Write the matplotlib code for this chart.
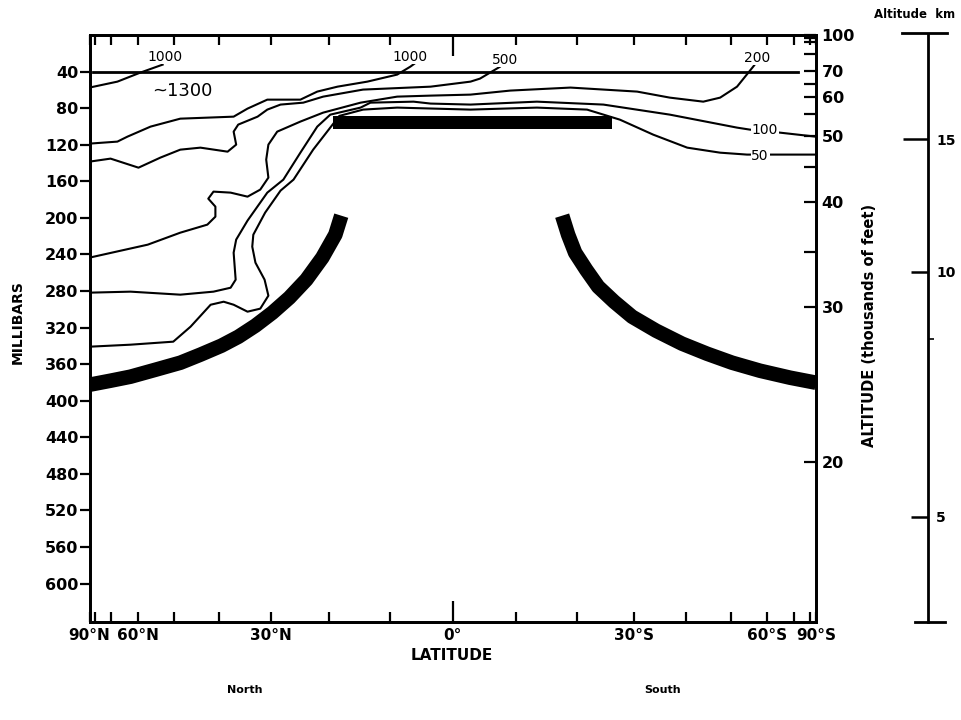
import numpy as np
import matplotlib
matplotlib.use("Agg")
import matplotlib.pyplot as plt
from matplotlib.ticker import FixedLocator, FixedFormatter, NullFormatter

plt.rcParams['font.family'] = ['DejaVu Sans']

# ---- axes definitions (latitude: north positive; pressure in mb) ----
lat_ticks = [90, 80, 70, 60, 50, 40, 30, 20, 10, 0, -10, -20, -30, -40, -50, -60, -70, -80, -90]
lat_tick_labels = ["90°N", "", "", "60°N", "", "", "30°N", "", "", "0°", "", "", "30°S", "", "", "60°S", "", "", "90°S"]
mb_ticks = [40, 80, 120, 160, 200, 240, 280, 320, 360, 400, 440, 480, 520, 560, 600]
ft_labels = ["100", "70", "60", "50", "40", "30", "20"]
ft_pos = [0, 39, 68, 111, 183, 298, 467]
ft_minor = [3, 8, 21, 54, 86, 144, 237]
km_labels = ["15", "10", "5"]
km_pos = [114, 259, 527]
km_minor = [333]

# ---- contour lines (lat, mb) ----
c1000a_lat = [90, 67.4, 59.3, 53.0]
c1000a_p = [57.5, 51.0, 41.1, 32.4]

c1000_lat = [90, 67.4, 63.6, 56.3, 48.6, 37.1, 34.4, 30.7, 24.8, 21.9, 18.5, 13.6, 8.8, 6.7, 5.6]
c1000_p = [118.8, 116.6, 111.2, 100.2, 91.5, 89.3, 80.5, 70.7, 70.7, 61.9, 56.5, 51.0, 43.3, 34.6, 29.1]

c500_lat = [90, 70.4, 59.9, 53.6, 48.6, 44.0, 38.3, 36.6, 37.1, 36.2, 32.5, 30.7, 28.3, 24.3, 20.9,
            14.3, 3.5, -2.8, -4.3, -7.5, -8.0]
c500_p = [138.5, 135.2, 145.1, 134.1, 125.4, 123.2, 127.6, 119.9, 105.7, 98.0, 89.3, 81.6, 76.1, 74.0, 67.4,
          59.7, 56.5, 51.0, 47.7, 34.6, 30.2]

c200_lat = [90, 57.1, 48.6, 42.5, 40.8, 40.8, 42.3, 41.2, 37.7, 34.4, 32.0, 30.5, 30.9, 30.5, 28.9, 24.8,
            20.9, 14.7, 8.8, 3.5, -2.8, -9.1, -18.9, -30.5, -36.7, -43.6, -47.4, -51.5, -55.8, -56.9]
c200_p = [243.5, 229.3, 216.2, 207.4, 198.7, 187.7, 179.0, 171.3, 172.4, 176.8, 169.1, 156.0, 136.3, 119.9,
          105.7, 94.7, 84.9, 74.0, 67.4, 66.3, 65.2, 60.8, 57.5, 61.9, 68.5, 72.9, 68.5, 56.5, 34.6, 29.1]

c100_lat = [90, 62.5, 48.6, 41.2, 37.7, 36.7, 37.1, 36.6, 34.4, 30.7, 27.8, 24.8, 21.9, 19.7, 14.7, 13.1,
            6.2, 3.5, -2.8, -13.4, -24.5, -36.7, -51.5, -54.9, -64.3, -90]
c100_p = [281.8, 280.7, 284.0, 280.7, 276.4, 267.6, 238.1, 223.8, 203.0, 172.4, 158.2, 128.7, 100.2, 87.1,
          79.4, 74.0, 72.9, 75.0, 76.1, 72.9, 76.1, 87.1, 101.3, 103.5, 106.8, 111.2]

c50_lat = [90, 62.5, 50.3, 46.2, 41.8, 39.1, 37.1, 34.4, 32.0, 30.5, 31.2, 32.9, 33.5, 33.3, 31.1, 28.3,
           26.0, 22.6, 19.2, 18.2, 14.3, 8.8, -2.8, -13.4, -21.7, -27.4, -33.5, -40.2, -47.4, -54.1, -63.2, -90]
c50_p = [340.9, 338.7, 335.4, 319.0, 295.0, 291.7, 295.0, 302.6, 299.3, 285.1, 267.6, 249.0, 231.5, 218.4,
         194.3, 170.2, 158.2, 125.4, 97.0, 88.5, 81.6, 79.4, 81.6, 79.4, 81.6, 92.6, 109.0, 123.2, 128.7,
         130.8, 130.8, 130.8]

# contour labels: (text, lat, mb)
clabels = [("1000", 52.3, 23.6), ("1000", 6.7, 23.6), ("500", -8.3, 26.9), ("200", -56.9, 24.7),
           ("100", -59.3, 104.0), ("50", -57.8, 132.0)]
big_label = ("~1300", 48.1, 60.8)

# horizontal line at 40 mb
line40_lat = [81.5, -71.9]
line40_p = 40

# thick bars
bar_lat = [19.2, -26.0]
bar_p = [89.0, 103.0]

arcN_lat = [17.87, 18.86, 21.04, 23.77, 26.73, 29.77, 32.91, 36.16, 39.56, 44.0, 48.56, 54.92, 62.51, 70.42, 90]
arcN_p = [197.6, 218.4, 243.5, 267.6, 287.3, 303.7, 317.9, 330.0, 339.8, 349.6, 358.4, 366.1, 373.7, 378.1, 382.5]
arcS_lat = [-17.53, -18.52, -19.69, -21.55, -23.60, -26.38, -29.59, -34.04, -39.15, -44.44, -50.26, -57.77, -68.2, -90]
arcS_p = [197.6, 218.4, 238.1, 256.7, 275.3, 291.7, 308.1, 323.4, 337.6, 348.6, 358.4, 367.2, 374.8, 380.3]

P_MAX, P_MIN = 642, 0

fig = plt.figure(figsize=(9.61, 7.2), dpi=100)
L, R, B, T = 89.5 / 961, 816 / 961, 1 - 622 / 720, 1 - 35 / 720
ax = fig.add_axes([L, B, R - L, T - B])


def fwd(x):
    return np.sin(np.radians(np.clip(x, -90, 90)))


def inv(y):
    return np.degrees(np.arcsin(np.clip(y, -1, 1)))


ax.set_xscale('function', functions=(fwd, inv))
ax.set_xlim(90, -90)
ax.set_ylim(P_MAX, P_MIN)

for s in ax.spines.values():
    s.set_linewidth(2.0)

# ticks
ax.xaxis.set_major_locator(FixedLocator(lat_ticks))
ax.xaxis.set_major_formatter(FixedFormatter(lat_tick_labels))
ax.tick_params(axis='x', direction='in', top=True, bottom=True, length=7, width=1.6,
               labelsize=11, pad=4)
for lbl in ax.get_xticklabels():
    lbl.set_fontweight('bold')
for t, v in zip(ax.xaxis.get_major_ticks(), lat_ticks):
    if v == 0:
        t.tick1line.set_markersize(15)
        t.tick2line.set_markersize(15)

ax.yaxis.set_major_locator(FixedLocator(mb_ticks))
ax.tick_params(axis='y', direction='out', left=True, right=False, length=7, width=1.6,
               labelsize=11.5, pad=1)
for lbl in ax.get_yticklabels():
    lbl.set_fontweight('bold')

# right (feet) axis
ax_r = ax.twinx()
ax_r.set_ylim(P_MAX, P_MIN)
ax_r.yaxis.set_major_locator(FixedLocator(ft_pos))
ax_r.yaxis.set_major_formatter(FixedFormatter(ft_labels))
ax_r.yaxis.set_minor_locator(FixedLocator(ft_minor))
ax_r.yaxis.set_minor_formatter(NullFormatter())
ax_r.tick_params(axis='y', which='both', direction='in', length=9, width=1.6, labelsize=11.5, pad=4)
for lbl in ax_r.get_yticklabels():
    lbl.set_fontweight('bold')
for s in ax_r.spines.values():
    s.set_linewidth(2.0)

# data
lw = 1.5
ax.plot(c1000a_lat, c1000a_p, color='black', lw=lw)
ax.plot(c1000_lat, c1000_p, color='black', lw=lw)
ax.plot(c500_lat, c500_p, color='black', lw=lw)
ax.plot(c200_lat, c200_p, color='black', lw=lw)
ax.plot(c100_lat, c100_p, color='black', lw=lw)
ax.plot(c50_lat, c50_p, color='black', lw=lw)
ax.plot(line40_lat, [line40_p, line40_p], color='black', lw=2.0)

ax.fill_between(bar_lat, bar_p[0], bar_p[1], color='black', lw=0)
ax.plot(arcN_lat, arcN_p, color='black', lw=10.5, solid_capstyle='butt', solid_joinstyle='round')
ax.plot(arcS_lat, arcS_p, color='black', lw=10.5, solid_capstyle='butt', solid_joinstyle='round')

for txt, la, pp in clabels:
    ax.text(la, pp, txt, ha='center', va='center', fontsize=10,
            bbox=dict(facecolor='white', edgecolor='none', pad=0.5))
ax.text(big_label[1], big_label[2], big_label[0], ha='center', va='center', fontsize=13)

# km axis
kx0 = 898 / 961
ax_k = fig.add_axes([kx0, B, 30 / 961, T - B])
ax_k.set_ylim(P_MAX, P_MIN)
ax_k.patch.set_visible(False)
for side in ['left', 'top', 'bottom']:
    ax_k.spines[side].set_visible(False)
ax_k.spines['right'].set_linewidth(2.0)
ax_k.set_xticks([])
ax_k.yaxis.tick_right()
ax_k.yaxis.set_major_locator(FixedLocator(km_pos))
ax_k.yaxis.set_major_formatter(FixedFormatter(km_labels))
ax_k.yaxis.set_minor_locator(FixedLocator(km_minor))
ax_k.tick_params(axis='y', which='major', direction='in', length=12, width=1.8, labelsize=10, pad=6)
ax_k.tick_params(axis='y', which='minor', direction='out', length=4, width=1.2)
for lbl in ax_k.get_yticklabels():
    lbl.set_fontweight('bold')
for t in ax_k.yaxis.get_major_ticks()[:1]:
    t.tick2line.set_markersize(18)
ktr = ax_k.get_yaxis_transform()
ax_k.plot([0.13, 1.63], [-2, -2], transform=ktr, color='black', lw=2.0, clip_on=False)
ax_k.plot([0.57, 1.57], [P_MAX, P_MAX], transform=ktr, color='black', lw=2.0, clip_on=False)

# texts
fig.text(452 / 961, 1 - 656 / 720, "LATITUDE", ha='center', va='center', fontsize=11, fontweight='bold')
fig.text(18 / 961, 1 - 322 / 720, "MILLIBARS", ha='center', va='center', rotation=90,
         fontsize=10, fontweight='bold')
fig.text(870 / 961, 1 - 325 / 720, "ALTITUDE (thousands of feet)", ha='center', va='center',
         rotation=90, fontsize=10.5, fontweight='bold')
fig.text(915 / 961, 1 - 14 / 720, "Altitude  km", ha='center', va='center', fontsize=8.5, fontweight='bold')
fig.text(245 / 961, 1 - 690 / 720, "North", ha='center', va='center', fontsize=8, fontweight='bold')
fig.text(663 / 961, 1 - 690 / 720, "South", ha='center', va='center', fontsize=8, fontweight='bold')

fig.savefig("out.png", dpi=100, facecolor='white')
